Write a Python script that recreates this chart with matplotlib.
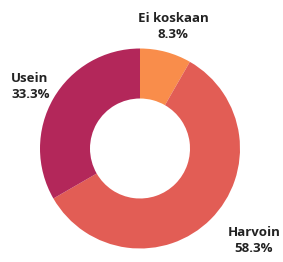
import matplotlib
matplotlib.use("Agg")
import matplotlib.pyplot as plt

categories = ["Ei koskaan", "Harvoin", "Usein"]
values = [8.3, 58.3, 33.3]
colors = ["#F98D4B", "#E25D55", "#B3275A"]

plt.rcParams['font.family'] = ['Open Sans', 'DejaVu Sans']

fig = plt.figure(figsize=(2.83, 2.62), dpi=100)
ax = fig.add_axes([0, 0, 1, 1])

ax.pie(values, colors=colors, startangle=90, counterclock=False,
       center=(140, 113.5), radius=100,
       wedgeprops=dict(width=50, edgecolor='none'), frame=True)
ax.set_xlim(0, 283)
ax.set_ylim(0, 262)
ax.set_aspect('equal')
ax.axis('off')

label_pos = [(173, 236, 'center'), (254, 22, 'center'), (11, 176, 'left')]
for cat, v, (x, y, ha) in zip(categories, values, label_pos):
    ax.text(x, y, f"{cat}\n{v:.1f}%", ha=ha, va='center', fontsize=9.5,
            fontweight='bold', color='#222222', linespacing=1.3,
            multialignment='center' if ha == 'center' else 'left')

fig.savefig("out.png", dpi=100)
